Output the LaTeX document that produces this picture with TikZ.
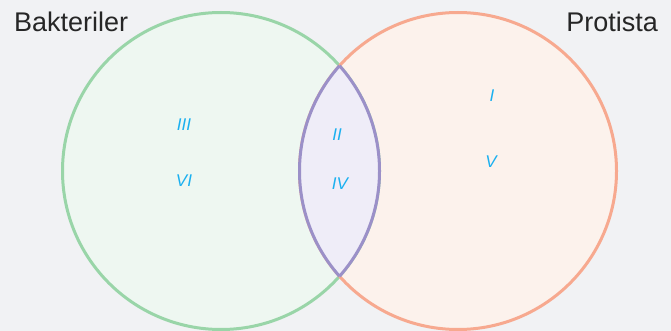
\documentclass[tikz,border=0pt]{standalone}
\usepackage{fontspec}
\setmainfont{Liberation Sans}
\definecolor{bg}{HTML}{F1F2F4}
\definecolor{gstroke}{HTML}{99D5A8}
\definecolor{gfill}{HTML}{EEF7F1}
\definecolor{ostroke}{HTML}{F7A98F}
\definecolor{ofill}{HTML}{FCF2EC}
\definecolor{pstroke}{HTML}{9B90C8}
\definecolor{pfill}{HTML}{EFEDF8}
\definecolor{lab}{HTML}{1AB0F0}
\begin{document}
\begin{tikzpicture}[x=1pt,y=-1pt,
  title/.style={font=\fontsize{27}{30}\selectfont, text=black!85, inner sep=0pt},
  roman/.style={font=\fontsize{17}{19}\selectfont\itshape, text=lab, inner sep=0pt},
  ring/.style={line width=3pt}]
\fill[bg] (0,0) rectangle (671,331);
\useasboundingbox (0,0) rectangle (671,331);
\coordinate (L) at (221,171);
\coordinate (R) at (458,171);
\def\rad{158.5}
\fill[gfill] (L) circle (\rad);
\fill[ofill] (R) circle (\rad);
\draw[ring, gstroke] (L) circle (\rad);
\draw[ring, ostroke] (R) circle (\rad);
\begin{scope}
  \clip (L) circle (\rad);
  \fill[pfill] (R) circle (\rad);
  \draw[ring, pstroke] (R) circle (\rad);
\end{scope}
\begin{scope}
  \clip (R) circle (\rad);
  \draw[ring, pstroke] (L) circle (\rad);
\end{scope}
\node[title, anchor=west] (bak) at (14,22) {Bakteriler};
\node[title, anchor=east] (pro) at (658,22) {Protista};
\node[roman] (r3) at (184,125) {III};
\node[roman] (r6) at (184,181) {VI};
\node[roman] (r2) at (337,135) {II};
\node[roman] (r4) at (340,184) {IV};
\node[roman] (r1) at (492,96) {I};
\node[roman] (r5) at (491,162) {V};
\end{tikzpicture}
\end{document}
